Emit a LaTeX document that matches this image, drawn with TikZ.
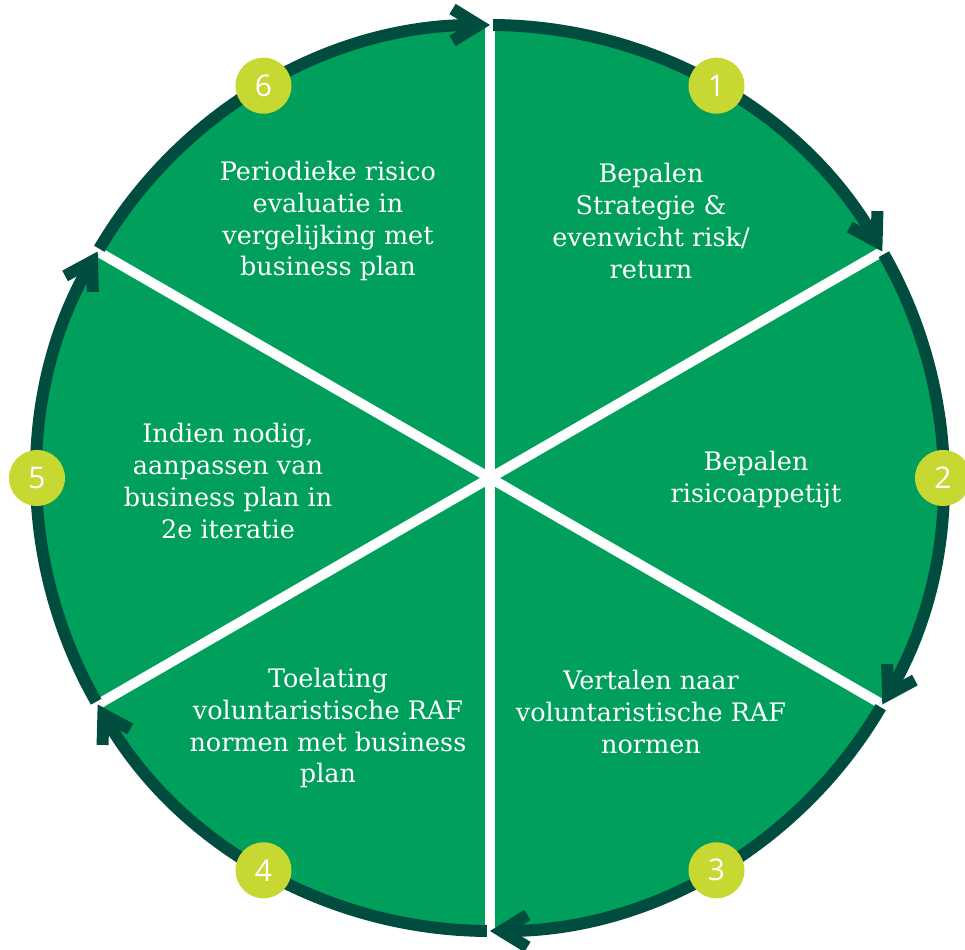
\documentclass[tikz,border=0pt]{standalone}
\usepackage{fontspec}
\setmainfont{DejaVu Serif}
\newfontfamily\digitfont{Open Sans}
\usepackage{tikz}
\usetikzlibrary{arrows.meta}
\definecolor{fieldgreen}{RGB}{0,160,92}
\definecolor{ringgreen}{RGB}{0,77,64}
\definecolor{dotlime}{RGB}{200,216,50}

\begin{document}
\begin{tikzpicture}[
	phase/.style={text=white, align=center, font=\fontsize{14.5}{18.2}\selectfont},
	numdot/.style={circle, fill=dotlime, minimum size=1.12cm, inner sep=0pt,
		text=white, font=\digitfont\fontsize{17}{17}\selectfont},
	ring/.style={ringgreen, line width=2.4mm,
		-{Straight Barb[length=5.2mm, width=6.4mm, line width=2.4mm, line join=miter]}}
]
	\useasboundingbox (-9.8,-9.44) rectangle (9.5,9.56);

	\fill[fieldgreen] (0,0) circle (9.0);
	\foreach \a in {90, 30, -30, -90, -150, 150}
	\draw[white, line width=2mm] (0,0) -- (\a:9.0);

	\foreach \a in {150, 90, 30, -30, -90, -150}
	\draw[ring] (\a-0.4:9.06) arc (\a-0.4:\a-60:9.06);

	\foreach \n/\a in {1/60, 2/0, 3/-60, 4/-120, 5/180, 6/120}
	\node[numdot] (dot\n) at (\a:9.06) {\n};

	\node[phase] (strategie) at (3.22,5.14) {Bepalen\\Strategie \&\\evenwicht risk/\\return};
	\node[phase] (appetijt) at (5.32,-0.04) {Bepalen\\risicoappetijt};
	\node[phase] (normen) at (3.22,-4.68) {Vertalen naar\\voluntaristische RAF\\normen};
	\node[phase] (toelating) at (-3.24,-5.0) {Toelating\\voluntaristische RAF\\normen met business\\plan};
	\node[phase] (aanpassen) at (-5.24,-0.06) {Indien nodig,\\aanpassen van\\business plan in\\2e iteratie};
	\node[phase] (evaluatie) at (-3.24,5.14) {Periodieke risico\\evaluatie in\\vergelijking met\\business plan};
\end{tikzpicture}
\end{document}
